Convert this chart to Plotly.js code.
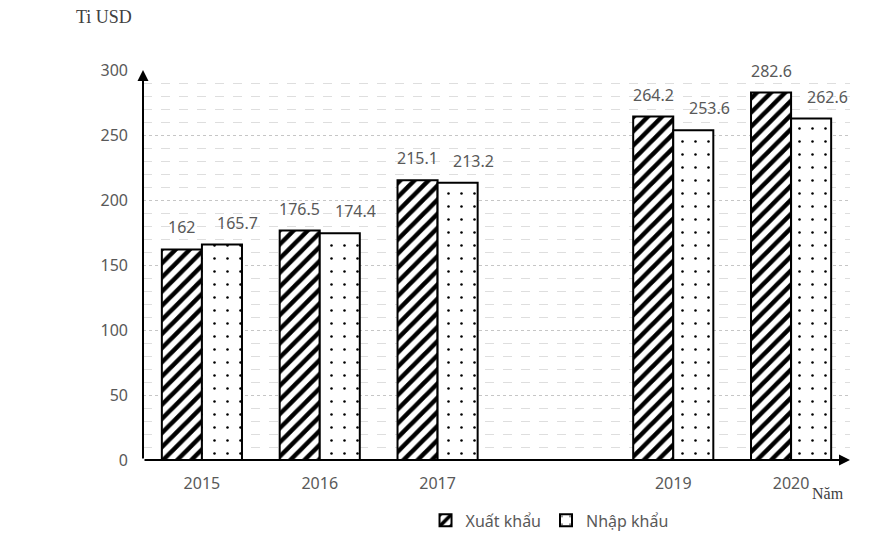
<!DOCTYPE html>
<html>
<head>
<meta charset="utf-8">
<script src="https://cdn.plot.ly/plotly-3.0.1.min.js"></script>
<style>html,body{margin:0;padding:0;background:#fff;}#chart{width:872px;height:549px;}</style>
</head>
<body>
<div id="chart"></div>
<script>
const years = [2015, 2016, 2017, 2019, 2020];
const tickLabels = ["2015", "2016", "2017", "2019", "2020"];
const exportValues = [162, 176.5, 215.1, 264.2, 282.6];
const importValues = [165.7, 174.4, 213.2, 253.6, 262.6];
const exportLabels = ["162", "176.5", "215.1", "264.2", "282.6"];
const importLabels = ["165.7", "174.4", "213.2", "253.6", "262.6"];
const seriesNames = ["Xuất khẩu", "Nhập khẩu"];
const yUnit = "Ti USD";
const xUnit = "Năm";

const gray = "#595959";
const labelFont = {family: "Noto Sans, sans-serif", size: 16, color: gray};

const traces = [
  {
    type: "bar", name: seriesNames[0], x: years, y: exportValues,
    marker: {color: "#ffffff", line: {color: "#000000", width: 2},
      pattern: {shape: "/", fgcolor: "#000000", bgcolor: "#ffffff", size: 10, solidity: 0.45}},
    hoverinfo: "skip"
  },
  {
    type: "bar", name: seriesNames[1], x: years, y: importValues,
    marker: {color: "#ffffff", line: {color: "#000000", width: 2},
      pattern: {shape: ".", fgcolor: "#000000", bgcolor: "#ffffff", size: 13, solidity: 0.03}},
    hoverinfo: "skip"
  }
];

const annotations = [];
years.forEach((yr, i) => {
  annotations.push({x: yr, y: exportValues[i], xref: "x", yref: "y", text: exportLabels[i],
    showarrow: false, yanchor: "bottom", xshift: -20, yshift: 9, font: labelFont});
  annotations.push({x: yr, y: importValues[i], xref: "x", yref: "y", text: importLabels[i],
    showarrow: false, yanchor: "bottom", xshift: 36, yshift: 9, font: labelFont});
});
// axis arrows
annotations.push({x: 2020.5, y: 0, ax: 2014.5, ay: 0, xref: "x", yref: "y", axref: "x", ayref: "y",
  text: "", showarrow: true, arrowhead: 2, arrowsize: 1.1, arrowwidth: 2, arrowcolor: "#000"});
annotations.push({x: 2014.5, y: 300, ax: 2014.5, ay: 0, xref: "x", yref: "y", axref: "x", ayref: "y",
  text: "", showarrow: true, arrowhead: 2, arrowsize: 1.1, arrowwidth: 2, arrowcolor: "#000"});
// unit labels
annotations.push({xref: "paper", yref: "paper", x: -0.097, y: 1.135,
  xanchor: "left", yanchor: "middle", text: yUnit, showarrow: false,
  font: {family: "Liberation Serif, serif", size: 18, color: "#404040"}});
annotations.push({xref: "paper", yref: "paper", x: 0.944, y: -0.087, xanchor: "left", yanchor: "middle",
  text: xUnit, showarrow: false, font: {family: "Liberation Serif, serif", size: 16, color: "#404040"}});

const layout = {
  width: 872, height: 549,
  margin: {l: 143, r: 22, t: 70, b: 89},
  paper_bgcolor: "#ffffff", plot_bgcolor: "#ffffff",
  barmode: "group", bargap: 0.32, bargroupgap: 0,
  showlegend: true,
  legend: {orientation: "h", x: 0.575, xanchor: "center", y: -0.155, yanchor: "middle",
    font: {family: "Noto Sans, sans-serif", size: 16, color: gray}, itemwidth: 30, traceorder: "normal"},
  xaxis: {range: [2014.5, 2020.5], tickvals: years, ticktext: tickLabels, showgrid: false,
    zeroline: false, showline: false, ticks: "", ticklabelstandoff: 12, tickfont: labelFont, fixedrange: true},
  yaxis: {range: [0, 300], dtick: 50, tick0: 0, showgrid: true, gridcolor: "#c6c6c6", griddash: "dot", gridwidth: 1,
    minor: {dtick: 10, showgrid: true, gridcolor: "#dedede", griddash: "dash", gridwidth: 1},
    zeroline: false, showline: false, ticks: "", ticklabelstandoff: 14, tickfont: labelFont, fixedrange: true},
  annotations: annotations
};

Plotly.newPlot("chart", traces, layout, {staticPlot: true});
</script>
</body>
</html>
